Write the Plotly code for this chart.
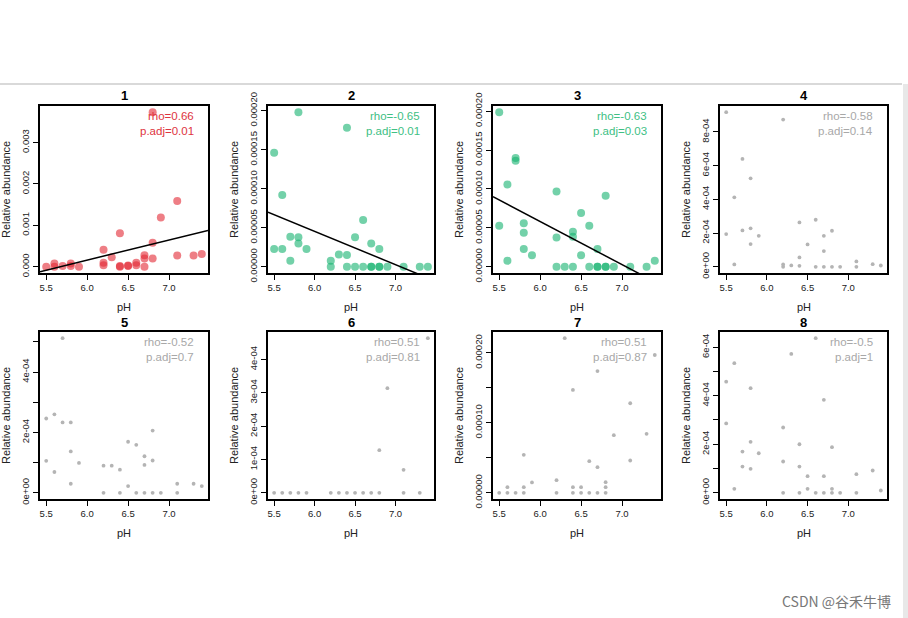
import plotly.graph_objects as go

# ---------------- data ----------------
panel_titles = ["1", "2", "3", "4", "5", "6", "7", "8"]

ph1 = [5.5, 5.6, 5.6, 5.7, 5.8, 5.8, 5.9, 6.2, 6.2, 6.2, 6.3, 6.4, 6.4, 6.4, 6.5, 6.5, 6.6, 6.6, 6.7, 6.7, 6.7, 6.8, 6.8, 6.8, 6.9, 7.1, 7.1, 7.3, 7.4]
ab1 = [0.0, 0.00008, 0.0, 0.00002, 0.00008, 0.00002, 0.0, 0.00041, 0.00010, 0.00004, 0.00023, 0.00081, 0.00002, 0.0, 0.00003, 0.00002, 0.00010, 0.00004, 0.00028, 0.00020, 0.0, 0.00058, 0.00020, 0.00373, 0.00119, 0.00159, 0.00027, 0.00027, 0.00031]

ph2 = [5.5, 5.5, 5.6, 5.6, 5.7, 5.7, 5.8, 5.8, 5.8, 5.9, 6.2, 6.2, 6.3, 6.4, 6.4, 6.4, 6.5, 6.5, 6.6, 6.6, 6.7, 6.7, 6.7, 6.8, 6.8, 6.8, 6.9, 7.1, 7.3, 7.4]
ab2 = [0.000146, 0.0000227, 0.0000921, 0.0000227, 0.0000385, 0.0000077, 0.000198, 0.0000377, 0.00003, 0.0000227, 0.0000077, 0.0, 0.0000158, 0.000178, 0.000015, 0.0, 0.0000377, 0.0, 0.00006, 0.0, 0.00003, 0.0, 0.0, 0.0000227, 0.0, 0.0, 0.0, 0.0, 0.0, 0.0]

ph3 = [5.5, 5.5, 5.6, 5.6, 5.7, 5.7, 5.8, 5.8, 5.8, 5.9, 6.2, 6.2, 6.2, 6.3, 6.4, 6.4, 6.4, 6.5, 6.5, 6.6, 6.6, 6.7, 6.7, 6.7, 6.8, 6.8, 6.8, 6.9, 7.1, 7.3, 7.4]
ab3 = [0.0001987, 0.0000529, 0.0001058, 0.0000077, 0.0001398, 0.0001363, 0.0000559, 0.0000439, 0.0000228, 0.000015, 0.0000968, 0.0000378, 0.0, 0.0, 0.0000452, 0.0000387, 0.0, 0.0000692, 0.000015, 0.0000529, 0.0, 0.0000228, 0.0, 0.0, 0.0000912, 0.0, 0.0, 0.0, 0.0, 0.0, 0.0000077]

ph4 = [5.5, 5.5, 5.6, 5.6, 5.7, 5.7, 5.8, 5.8, 5.8, 5.9, 6.2, 6.2, 6.2, 6.3, 6.4, 6.4, 6.4, 6.5, 6.6, 6.6, 6.7, 6.7, 6.7, 6.8, 6.8, 6.9, 7.1, 7.1, 7.3, 7.4]
ab4 = [0.000917, 0.000194, 0.000412, 0.0000139, 0.00064, 0.000216, 0.000525, 0.000228, 0.000135, 0.000184, 0.000873, 0.0000139, 0.0, 0.000008, 0.000263, 0.0000554, 0.000006, 0.000133, 0.000279, 0.0, 0.000184, 0.0000931, 0.0, 0.000214, 0.0, 0.0, 0.0000317, 0.0, 0.0000158, 0.0000079]

ph5 = [5.5, 5.5, 5.6, 5.6, 5.7, 5.7, 5.8, 5.8, 5.8, 5.9, 6.2, 6.2, 6.3, 6.4, 6.4, 6.5, 6.5, 6.6, 6.6, 6.7, 6.7, 6.7, 6.8, 6.8, 6.8, 6.9, 7.1, 7.1, 7.3, 7.4]
ab5 = [0.000246, 0.000106, 0.00026, 0.0000689, 0.000512, 0.000233, 0.000233, 0.000137, 0.00003, 0.0000989, 0.00009, 0.0, 0.00009, 0.0000767, 0.0, 0.000169, 0.0000222, 0.000159, 0.0, 0.000121, 0.0000922, 0.0, 0.000206, 0.000107, 0.0, 0.0, 0.00003, 0.0, 0.00003, 0.0000222]

ph6 = [5.5, 5.6, 5.7, 5.8, 5.9, 6.2, 6.3, 6.4, 6.5, 6.6, 6.7, 6.8, 6.8, 6.9, 7.1, 7.1, 7.3, 7.4]
ab6 = [0.0, 0.0, 0.0, 0.0, 0.0, 0.0, 0.0, 0.0, 0.0, 0.0, 0.0, 0.000128, 0.0, 0.000314, 0.000069, 0.0, 0.0, 0.000464]

ph7 = [5.5, 5.6, 5.6, 5.7, 5.8, 5.8, 5.8, 5.9, 6.2, 6.2, 6.3, 6.4, 6.4, 6.4, 6.5, 6.5, 6.6, 6.6, 6.7, 6.7, 6.7, 6.8, 6.8, 6.8, 6.9, 7.1, 7.1, 7.3, 7.4]
ab7 = [0.0, 0.0000081, 0.0, 0.0, 0.0000543, 0.0000081, 0.0, 0.0000148, 0.0000181, 0.0, 0.000221, 0.000147, 0.0000081, 0.0, 0.0000081, 0.0, 0.0000452, 0.0, 0.000174, 0.0000367, 0.0, 0.0000152, 0.0000081, 0.0, 0.0000824, 0.000128, 0.0000462, 0.0000843, 0.000197]

ph8 = [5.5, 5.5, 5.6, 5.6, 5.7, 5.7, 5.8, 5.8, 5.8, 5.9, 6.2, 6.2, 6.2, 6.3, 6.4, 6.4, 6.4, 6.5, 6.5, 6.6, 6.6, 6.7, 6.7, 6.7, 6.8, 6.8, 6.8, 6.9, 7.1, 7.1, 7.3, 7.4]
ab8 = [0.000458, 0.000286, 0.000534, 0.0000165, 0.00017, 0.000108, 0.000431, 0.00021, 0.0000988, 0.000163, 0.000269, 0.000129, 0.0, 0.000572, 0.0002, 0.000108, 0.0, 0.0000686, 0.0000165, 0.000637, 0.0, 0.000383, 0.0000686, 0.0, 0.000188, 0.0000165, 0.0, 0.0, 0.0000769, 0.0, 0.000092, 0.0000096]

rho_labels = ["rho=0.66", "rho=-0.65", "rho=-0.63", "rho=-0.58", "rho=-0.52", "rho=0.51", "rho=0.51", "rho=-0.5"]
padj_labels = ["p.adj=0.01", "p.adj=0.01", "p.adj=0.03", "p.adj=0.14", "p.adj=0.7", "p.adj=0.81", "p.adj=0.87", "p.adj=1"]

# regression lines (value at pH 5.5 and slope), only for significant panels
fit_at_ph55 = [-0.000081, 0.0000668, 0.0000858, None, None, None, None, None]
fit_slope = [0.000486, -0.0000427, -0.0000553, None, None, None, None, None]

xtick_vals = [5.5, 6.0, 6.5, 7.0]
xtick_text = ["5.5", "6.0", "6.5", "7.0"]

ytick_vals = [
    [0, 0.001, 0.002, 0.003],
    [0, 0.00005, 0.0001, 0.00015, 0.0002],
    [0, 0.00005, 0.0001, 0.00015, 0.0002],
    [0, 0.0002, 0.0004, 0.0006, 0.0008],
    [0, 0.0001, 0.0002, 0.0003, 0.0004, 0.0005],
    [0, 0.0001, 0.0002, 0.0003, 0.0004],
    [0, 0.00005, 0.0001, 0.00015, 0.0002],
    [0, 0.0001, 0.0002, 0.0003, 0.0004, 0.0005, 0.0006],
]
ytick_text = [
    ["0.000", "0.001", "0.002", "0.003"],
    ["0.00000", "0.00005", "0.00010", "0.00015", "0.00020"],
    ["0.00000", "0.00005", "0.00010", "0.00015", "0.00020"],
    ["0e+00", "2e-04", "4e-04", "6e-04", "8e-04"],
    ["0e+00", "", "2e-04", "", "4e-04", ""],
    ["0e+00", "1e-04", "2e-04", "3e-04", "4e-04"],
    ["0.00000", "", "0.00010", "", "0.00020"],
    ["0e+00", "", "2e-04", "", "4e-04", "", "6e-04"],
]

x_label = "pH"
y_label = "Relative abundance"
credit = "CSDN @谷禾牛博"

# ---------------- styling ----------------
phs = [ph1, ph2, ph3, ph4, ph5, ph6, ph7, ph8]
abs_ = [ab1, ab2, ab3, ab4, ab5, ab6, ab7, ab8]

RED_M = "rgba(226,40,52,0.6)"
RED_T = "rgb(222,52,62)"
GRN_M = "rgba(22,178,112,0.6)"
GRN_T = "rgb(64,192,132)"
GRY_M = "rgb(180,180,180)"
GRY_T = "rgb(168,168,168)"
mcol = [RED_M, GRN_M, GRN_M] + [GRY_M] * 5
tcol = [RED_T, GRN_T, GRN_T] + [GRY_T] * 5
msize = [8, 8, 8] + [3.8] * 5

W, H = 908, 618
col_px = [(40, 208), (268, 434), (493, 661), (720, 887)]
row_px = [(106, 273), (332, 499)]
FONT = "Liberation Sans, Arial, Helvetica, sans-serif"

fig = go.Figure()
annotations = []
layout = {}


def py(v):
    return 1 - v / H


for i in range(8):
    r, c = divmod(i, 4)
    x0, x1 = col_px[c]
    top, bot = row_px[r]
    xs, ys = phs[i], abs_[i]
    xr = [min(xs) - 0.04 * (max(xs) - min(xs)), max(xs) + 0.04 * (max(xs) - min(xs))]
    yr = [min(ys) - 0.04 * (max(ys) - min(ys)), max(ys) + 0.04 * (max(ys) - min(ys))]
    sx = "" if i == 0 else str(i + 1)
    xa, ya = "x" + sx, "y" + sx

    fig.add_trace(go.Scatter(
        x=xs, y=ys, mode="markers", xaxis=xa, yaxis=ya,
        marker=dict(color=mcol[i], size=msize[i], line=dict(width=0)),
        showlegend=False, hoverinfo="x+y"))

    if fit_slope[i] is not None:
        lx = [xr[0], xr[1]]
        ly = [fit_at_ph55[i] + fit_slope[i] * (v - 5.5) for v in lx]
        fig.add_trace(go.Scatter(
            x=lx, y=ly, mode="lines", xaxis=xa, yaxis=ya,
            line=dict(color="black", width=1.5), showlegend=False, hoverinfo="skip"))

    axis_common = dict(
        showline=True, mirror=True, linecolor="black", linewidth=1.6,
        ticks="outside", ticklen=5, tickwidth=1, tickcolor="black",
        showgrid=False, zeroline=False, automargin=False,
        tickfont=dict(family=FONT, size=9.5, color="#222"),
    )
    layout["xaxis" + sx] = dict(
        axis_common, domain=[x0 / W, x1 / W], anchor=ya, range=xr,
        tickmode="array", tickvals=xtick_vals, ticktext=xtick_text)
    layout["yaxis" + sx] = dict(
        axis_common, domain=[py(bot), py(top)], anchor=xa, range=yr,
        tickmode="array", tickvals=ytick_vals[i], ticktext=ytick_text[i],
        tickangle=-90)

    cx = (x0 + x1) / 2 / W
    annotations.append(dict(text="<b>%s</b>" % panel_titles[i], x=cx, y=py(top - 10),
                            xref="paper", yref="paper", showarrow=False,
                            xanchor="center", yanchor="middle",
                            font=dict(family=FONT, size=13, color="black")))
    annotations.append(dict(text=x_label, x=cx, y=py(bot + 34), xref="paper", yref="paper",
                            showarrow=False, xanchor="center", yanchor="middle",
                            font=dict(family=FONT, size=11, color="#222")))
    annotations.append(dict(text=y_label, x=(x0 - 34.5) / W, y=py((top + bot) / 2),
                            xref="paper", yref="paper", showarrow=False, textangle=-90,
                            xanchor="center", yanchor="middle",
                            font=dict(family=FONT, size=11, color="#222")))
    annotations.append(dict(text=rho_labels[i], x=(x1 - 12) / W, y=py(top + 10),
                            xref="paper", yref="paper", showarrow=False,
                            xanchor="right", yanchor="middle",
                            font=dict(family=FONT, size=11.5, color=tcol[i])))
    annotations.append(dict(text=padj_labels[i], x=(x1 - 12) / W, y=py(top + 25),
                            xref="paper", yref="paper", showarrow=False,
                            xanchor="right", yanchor="middle",
                            font=dict(family=FONT, size=11.5, color=tcol[i])))

annotations.append(dict(text=credit, x=893 / W, y=py(601), xref="paper", yref="paper",
                        showarrow=False, xanchor="right", yanchor="middle",
                        font=dict(family="Noto Sans CJK SC, " + FONT, size=14, color="rgb(120,120,120)")))

shapes = [
    dict(type="line", xref="paper", yref="paper", x0=0, x1=902 / W, y0=py(84), y1=py(84),
         line=dict(color="rgb(205,205,205)", width=1.5)),
    dict(type="rect", xref="paper", yref="paper", x0=903 / W, x1=1, y0=0, y1=py(84),
         fillcolor="rgb(232,232,232)", line=dict(width=0)),
]

fig.update_layout(
    width=W, height=H, autosize=False,
    margin=dict(l=0, r=0, t=0, b=0, pad=0),
    paper_bgcolor="white", plot_bgcolor="white",
    annotations=annotations, shapes=shapes, showlegend=False,
    **layout,
)

fig.write_html("out.html", config={"displayModeBar": False},
               post_script="document.body.style.margin='0';document.body.style.overflow='hidden';")
